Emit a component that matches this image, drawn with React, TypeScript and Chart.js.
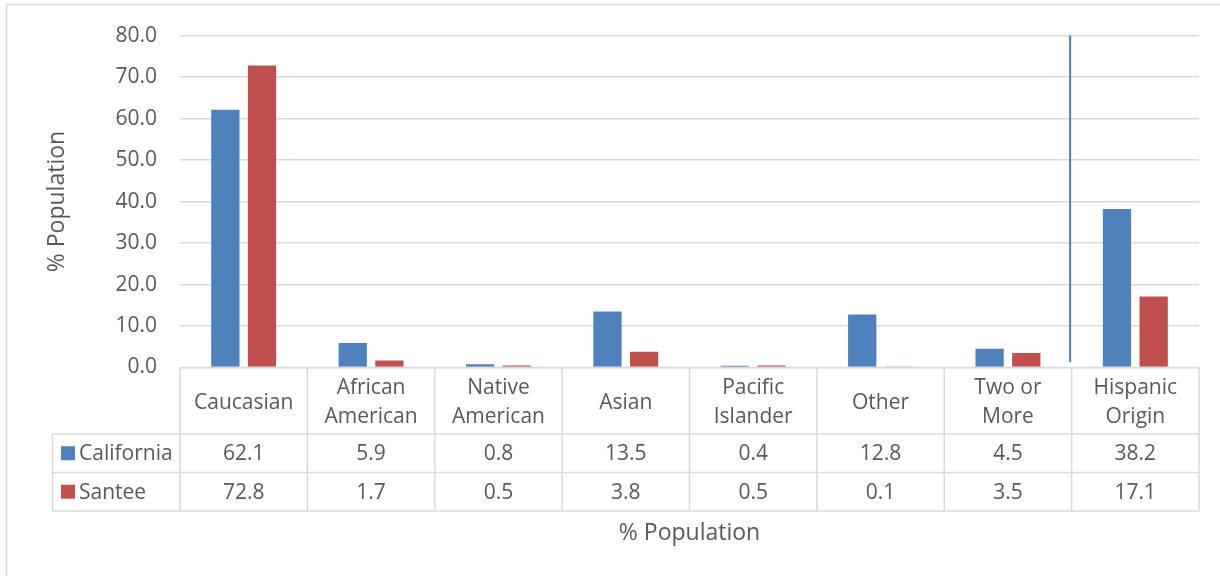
import React, { useEffect, useRef } from "react";
import { Chart, registerables } from "chart.js";

Chart.register(...registerables);

const categories: string[][] = [
  ["Caucasian"],
  ["African", "American"],
  ["Native", "American"],
  ["Asian"],
  ["Pacific", "Islander"],
  ["Other"],
  ["Two or", "More"],
  ["Hispanic", "Origin"],
];
const seriesNames = ["California", "Santee"];
const california = [62.1, 5.9, 0.8, 13.5, 0.4, 12.8, 4.5, 38.2];
const santee = [72.8, 1.7, 0.5, 3.8, 0.5, 0.1, 3.5, 17.1];
const yTicks = [0, 10, 20, 30, 40, 50, 60, 70, 80];
const axisTitle = "% Population";

const BLUE = "#4f81bd";
const RED = "#c0504d";
const TEXT = "#595959";
const GRID = "#d9d9d9";
const FONT = "'Open Sans', 'Noto Sans', sans-serif";

const tablePlugin = {
  id: "dataTable",
  afterDraw(chart: any) {
    const { ctx, chartArea } = chart;
    const x = chart.scales.x;
    const n = categories.length;
    const step = x.getPixelForValue(1) - x.getPixelForValue(0);
    const top = chartArea.bottom;
    const headerBottom = top + 66.5;
    const row1 = headerBottom + 38.5;
    const row2 = row1 + 38.5;
    const tableLeft = 52.5;
    ctx.save();

    // divider line between groups
    const divX = (x.getPixelForValue(6) + x.getPixelForValue(7)) / 2 - 1.5;
    ctx.strokeStyle = "#4a7ebb";
    ctx.lineWidth = 2;
    ctx.beginPath();
    ctx.moveTo(divX, chartArea.top);
    ctx.lineTo(divX, chartArea.bottom - 5.5);
    ctx.stroke();

    ctx.strokeStyle = GRID;
    ctx.lineWidth = 1.5;
    ctx.beginPath();
    ctx.moveTo(chartArea.left, top);
    ctx.lineTo(chartArea.right, top);
    for (const yy of [headerBottom, row1, row2]) {
      ctx.moveTo(tableLeft, yy);
      ctx.lineTo(chartArea.right, yy);
    }
    for (let i = 0; i <= n; i++) {
      const xx = x.getPixelForValue(0) - step / 2 + i * step;
      ctx.moveTo(xx, top);
      ctx.lineTo(xx, row2);
    }
    ctx.moveTo(tableLeft, headerBottom);
    ctx.lineTo(tableLeft, row2);
    ctx.stroke();

    ctx.fillStyle = TEXT;
    ctx.font = `21px ${FONT}`;
    ctx.textAlign = "center";
    ctx.textBaseline = "middle";
    const hc = (top + headerBottom) / 2 + 2;
    categories.forEach((lines, i) => {
      const cx = x.getPixelForValue(i);
      const lh = 29;
      lines.forEach((ln, j) => {
        ctx.fillText(ln, cx, hc + (j - (lines.length - 1) / 2) * lh);
      });
      ctx.fillText(california[i].toFixed(1), cx, (headerBottom + row1) / 2 + 1);
      ctx.fillText(santee[i].toFixed(1), cx, (row1 + row2) / 2 + 1);
    });

    const colors = [BLUE, RED];
    const rows = [(headerBottom + row1) / 2, (row1 + row2) / 2];
    seriesNames.forEach((name, k) => {
      ctx.fillStyle = colors[k];
      ctx.fillRect(61, rows[k] - 7, 14, 14);
      ctx.fillStyle = TEXT;
      ctx.textAlign = "left";
      ctx.fillText(name, 79, rows[k] + 1);
    });

    ctx.textAlign = "center";
    ctx.font = `23px ${FONT}`;
    ctx.fillText(axisTitle, (chartArea.left + chartArea.right) / 2, row2 + 22);

    // chart frame (top and left edges visible)
    ctx.strokeStyle = GRID;
    ctx.lineWidth = 1.5;
    ctx.beginPath();
    ctx.moveTo(6.5, chart.height);
    ctx.lineTo(6.5, 4.5);
    ctx.lineTo(chart.width, 4.5);
    ctx.stroke();
    ctx.restore();
  },
};

export default function App() {
  const ref = useRef<HTMLCanvasElement>(null);
  useEffect(() => {
    if (!ref.current) return;
    const chart = new Chart(ref.current, {
      type: "bar",
      data: {
        labels: categories,
        datasets: [
          { label: seriesNames[0], data: california, backgroundColor: BLUE },
          { label: seriesNames[1], data: santee, backgroundColor: RED },
        ],
      },
      options: {
        responsive: false,
        animation: false,
        layout: { padding: { left: 0, right: 21, top: 34, bottom: 208.5 } },
        datasets: {
          bar: { categoryPercentage: 0.576, barPercentage: 0.771 },
        },
        plugins: {
          legend: { display: false },
          tooltip: { enabled: false },
        },
        scales: {
          x: { display: false },
          y: {
            min: 0,
            max: 80,
            afterFit(scale: any) {
              scale.width = 180;
            },
            afterBuildTicks(scale: any) {
              scale.ticks = yTicks.map((v) => ({ value: v }));
            },
            border: { display: false },
            grid: { color: GRID, lineWidth: 1.5, drawTicks: false },
            ticks: {
              padding: 23,
              color: TEXT,
              font: { family: FONT, size: 21 },
              callback: (v: any) => Number(v).toFixed(1),
            },
            title: {
              display: true,
              text: axisTitle,
              color: TEXT,
              font: { family: FONT, size: 23 },
              padding: { top: 44, bottom: 0 },
            },
          },
        },
      },
      plugins: [tablePlugin],
    });
    return () => chart.destroy();
  }, []);
  return (
    <div style={{ position: "fixed", left: 0, top: 0, width: 1220, height: 576, background: "#fff" }}>
      <canvas ref={ref} width={1220} height={576} />
    </div>
  );
}
